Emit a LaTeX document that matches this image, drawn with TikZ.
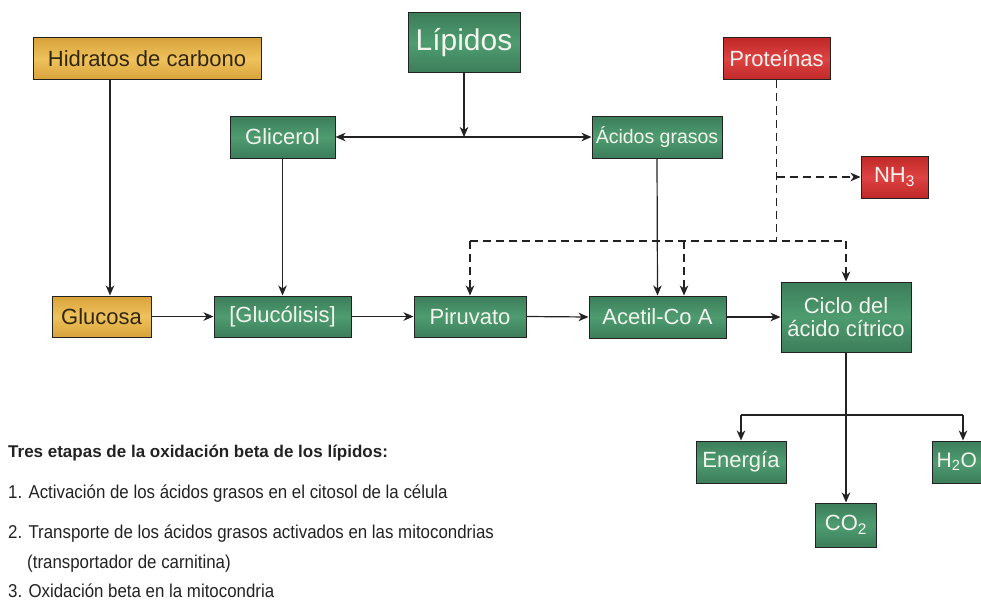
\documentclass[tikz,border=0pt]{standalone}
\usepackage{fontspec}
\setmainfont{Liberation Sans}
\usetikzlibrary{arrows.meta,calc}
\definecolor{gEdge}{HTML}{3C7D5A}
\definecolor{gMid}{HTML}{4E9C70}
\definecolor{yEdge}{HTML}{D8A23A}
\definecolor{yMid}{HTML}{EEC25C}
\definecolor{rEdge}{HTML}{C02828}
\definecolor{rMid}{HTML}{DE4242}
\definecolor{lineC}{HTML}{222222}
\definecolor{txtW}{HTML}{F4F4EE}
\definecolor{txtD}{HTML}{33260F}
\newcommand{\narrow}[1]{\scalebox{0.907}[1]{#1}}
\tikzset{
  box/.style={draw=lineC, line width=1pt, inner sep=0pt, align=center,
    font=\fontsize{22}{23}\selectfont},
  gbox/.style={box, top color=gEdge, bottom color=gEdge, middle color=gMid, text=txtW},
  ybox/.style={box, top color=yEdge, bottom color=yEdge, middle color=yMid, text=txtD},
  rbox/.style={box, top color=rEdge, bottom color=rEdge, middle color=rMid, text=txtW},
  conn/.style={draw=lineC, line width=1.2pt},
  arr/.style={conn, -{Stealth[length=10pt,width=8.5pt,inset=3pt]}},
  dbl/.style={conn, {Stealth[length=10pt,width=8.5pt,inset=3pt]}-{Stealth[length=10pt,width=8.5pt,inset=3pt]}},
  dsh/.style={conn, dash pattern=on 8pt off 5pt},
  darr/.style={dsh, -{Stealth[length=10pt,width=8.5pt,inset=3pt]}},
  listtxt/.style={anchor=base west, inner sep=0pt, text=lineC, font=\fontsize{18.6}{20}\selectfont},
}
\begin{document}
\begin{tikzpicture}[x=1pt,y=-1pt]
\useasboundingbox (0,0) rectangle (981,599);
\clip (0,0) rectangle (981,599);
% nodes
\node[ybox, minimum width=228pt, minimum height=42pt] (hc) at (147,59) {Hidratos de carbono};
\node[gbox, minimum width=112pt, minimum height=60pt, font=\fontsize{30}{32}\selectfont] (lip) at (464,43) {Lípidos};
\node[rbox, minimum width=107pt, minimum height=42pt] (pro) at (776.5,59) {Proteínas};
\node[gbox, minimum width=105pt, minimum height=42pt] (gli) at (282.5,137) {Glicerol};
\node[gbox, minimum width=130pt, minimum height=42pt] (acg) at (657,137) {\fontsize{19.5}{21}\selectfont Ácidos grasos};
\node[rbox, minimum width=67pt, minimum height=42pt] (nh3) at (894.5,177) {NH\textsubscript{3}};
\node[ybox, minimum width=99pt, minimum height=41pt] (glu) at (101.5,316.5) {Glucosa};
\node[gbox, minimum width=137pt, minimum height=41pt] (glc) at (282.5,316.5) {[Glucólisis]};
\node[gbox, minimum width=112pt, minimum height=41pt] (pir) at (470,316.5) {Piruvato};
\node[gbox, minimum width=137pt, minimum height=42pt] (ace) at (657.5,317) {Acetil-Co A};
\node[gbox, minimum width=130pt, minimum height=70pt] (cic) at (846,317) {Ciclo del\\ácido cítrico};
\node[gbox, minimum width=90pt, minimum height=42pt] (ene) at (741,462) {Energía};
\node[gbox, minimum width=62pt, minimum height=42pt] (h2o) at (963,462) {};
\node[anchor=west, inner sep=0pt, text=txtW, font=\fontsize{21}{23}\selectfont] (h2ot) at ([xshift=5pt]h2o.west) {H\textsubscript{2}O};
\node[gbox, minimum width=61pt, minimum height=44pt] (co2) at (846,525) {CO\textsubscript{2}};
% helper coordinates
\coordinate (lj) at (lip.south |- gli.east);
\coordinate (dj) at (pro.south |- 0,241);
\coordinate (pj) at (pro.south |- nh3.west);
\coordinate (cj) at (cic.south |- 0,415);
% connectors
\draw[arr] ([xshift=8.5pt]glu.north |- hc.south) -- ([xshift=8.5pt]glu.north);
\draw[arr] (lip.south) -- (lj);
\draw[dbl] (gli.east) -- (acg.west);
\draw[arr] (gli.south) -- (glc.north);
\draw[arr] (acg.south) -- (ace.north);
\draw[arr] (glu.east) -- (glc.west);
\draw[arr] (glc.east) -- (pir.west);
\draw[arr] (pir.east) -- (ace.west);
\draw[arr] (ace.east) -- (cic.west |- ace.east);
\draw[dsh] (pro.south) -- (dj);
\draw[darr] (pj) -- (nh3.west);
\draw[dsh] (pir.north |- dj) -- (cic.north |- dj);
\draw[darr] (pir.north |- dj) -- (pir.north);
\draw[darr] ([xshift=26.5pt]ace.north |- dj) -- ([xshift=26.5pt]ace.north);
\draw[darr] (cic.north |- dj) -- (cic.north);
\draw[arr] (cic.south) -- (co2.north);
\draw[conn] (ene.north |- cj) -- (h2o.north |- cj);
\draw[arr] (ene.north |- cj) -- (ene.north);
\draw[arr] (h2o.north |- cj) -- (h2o.north);
% text block
\node[listtxt, font=\fontsize{17}{19}\selectfont\bfseries] (t0) at (8,457) {Tres etapas de la oxidación beta de los lípidos:};
\node[listtxt] (t1) at (8,498) {\narrow{1. Activación de los ácidos grasos en el citosol de la célula}};
\node[listtxt] (t2) at (8,538) {\narrow{2. Transporte de los ácidos grasos activados en las mitocondrias}};
\node[listtxt] (t3) at (27,568) {\narrow{(transportador de carnitina)}};
\node[listtxt] (t4) at (8,597) {\narrow{3. Oxidación beta en la mitocondria}};
\end{tikzpicture}
\end{document}
